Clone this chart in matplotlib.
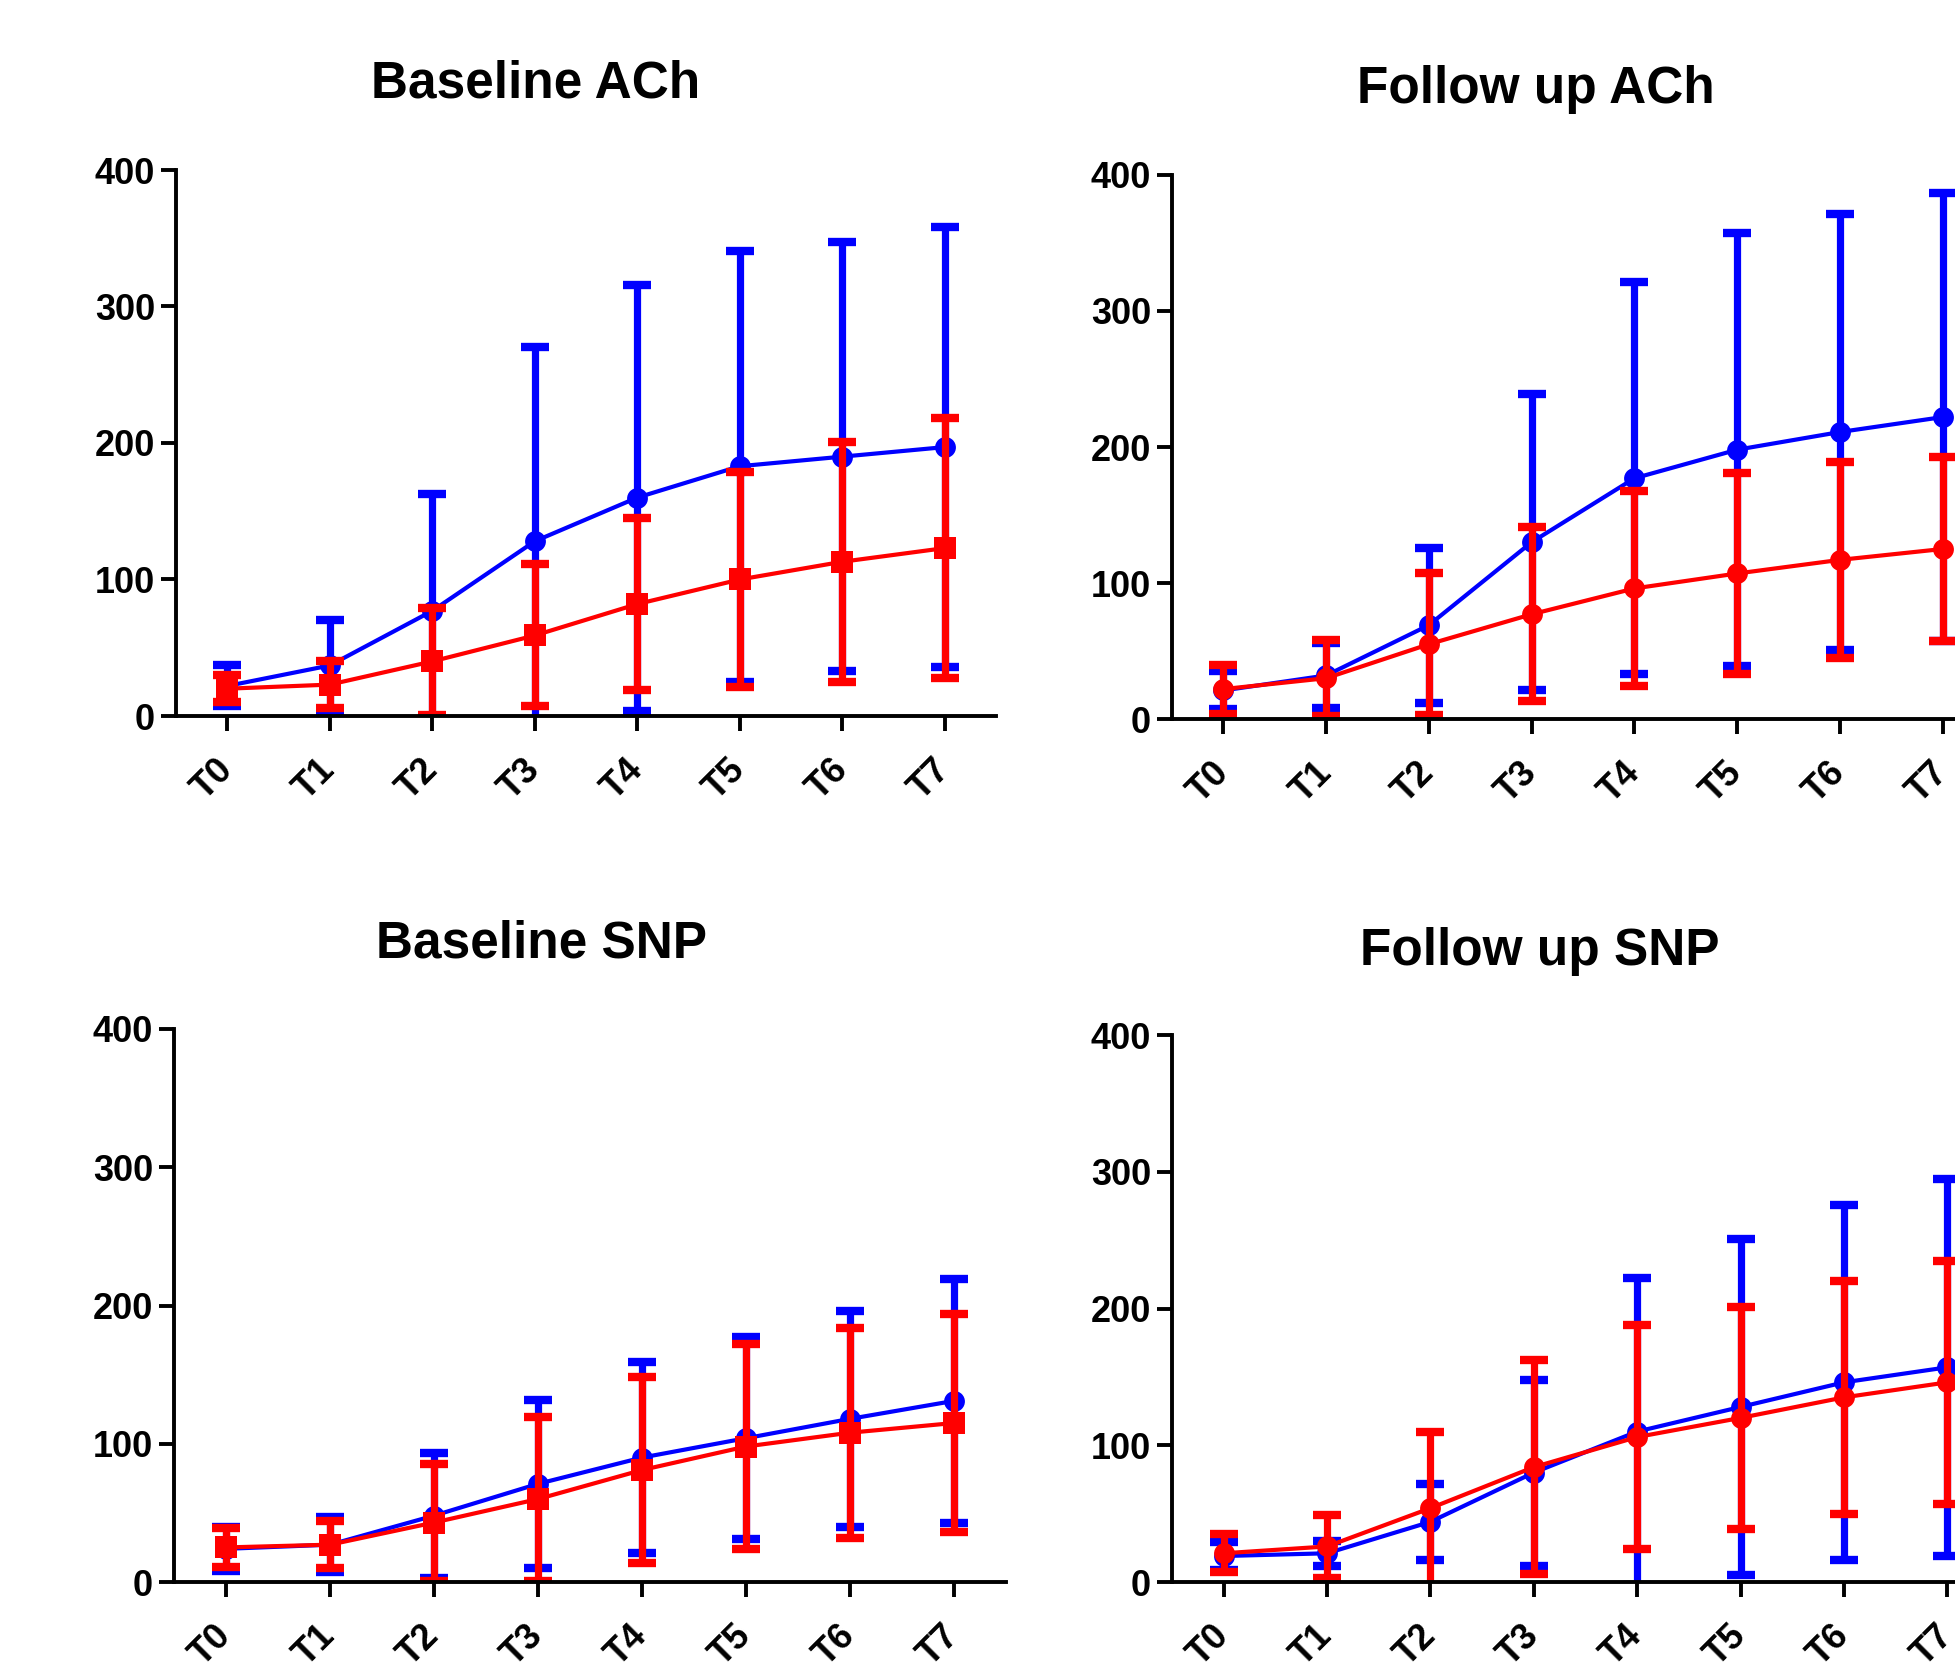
import numpy as np
import matplotlib
matplotlib.use("Agg")
import matplotlib.pyplot as plt
import matplotlib.transforms as mtransforms

plt.rcParams['font.family'] = ['Liberation Sans', 'DejaVu Sans']
plt.rcParams['font.weight'] = 'bold'

W, H = 1955, 1676

timepoints = ['T0', 'T1', 'T2', 'T3', 'T4', 'T5', 'T6', 'T7']
y_ticks = [0, 100, 200, 300, 400]

# Baseline ACh
base_ach_blue = [22, 37, 77, 128, 160, 183, 190, 197]
base_ach_blue_err = [15, 33, 86, 142, 156, 158, 157, 161]
base_ach_red = [20, 23, 40, 59, 82, 100, 113, 123]
base_ach_red_err = [10, 17, 39, 52, 63, 79, 88, 95]

# Follow up ACh
fu_ach_blue = [21, 32, 69, 130, 177, 198, 211, 222]
fu_ach_blue_err = [14, 24, 57, 109, 144, 159, 160, 165]
fu_ach_red = [22, 30, 55, 77, 96, 107, 117, 125]
fu_ach_red_err = [18, 28, 52, 64, 72, 74, 72, 68]

# Baseline SNP
base_snp_blue = [24, 27, 48, 71, 90, 104, 118, 131]
base_snp_blue_err = [16, 20, 45, 61, 69, 73, 78, 88]
base_snp_red = [25, 27, 43, 60, 81, 98, 108, 115]
base_snp_red_err = [14, 17, 42, 59, 67, 74, 76, 79]

# Follow up SNP
fu_snp_blue = [19, 21, 44, 80, 110, 128, 146, 157]
fu_snp_blue_err = [10, 9, 28, 68, 112, 123, 130, 138]
fu_snp_red = [21, 26, 54, 84, 106, 120, 135, 146]
fu_snp_red_err = [14, 23, 56, 78, 82, 81, 85, 89]

BLUE = '#0000ff'
RED = '#ff0000'


def add_panel(fig, box, title, title_xy, blue, blue_err, red, red_err, red_marker):
    """box is (left, top, right, bottom) in pixels of the full image."""
    l, t, r, b = box
    ax = fig.add_axes([l / W, 1 - b / H, (r - l) / W, (b - t) / H])
    x = np.arange(len(timepoints))

    for y, e, c, m in [(blue, blue_err, BLUE, 'o'), (red, red_err, RED, red_marker)]:
        # error bars first, then the mean line with markers on top
        ax.errorbar(x, y, yerr=e, fmt='none', ecolor=c, elinewidth=5.2,
                    capsize=10, capthick=6)
        ax.plot(x, y, color=c, linewidth=3, marker=m,
                markersize=15 if m == 'o' else 16, markeredgewidth=0)

    ax.set_xlim(-0.5, 7.5)
    ax.set_ylim(0, 400)
    ax.set_yticks(y_ticks)
    ax.set_xticks(x)
    ax.set_xticklabels(timepoints, rotation=45, ha='right', va='center',
                       rotation_mode='anchor')
    # nudge the slanted labels a little to the right
    shift = mtransforms.ScaledTranslation(6 / 72, 0, fig.dpi_scale_trans)
    for lab in ax.get_xticklabels():
        lab.set_transform(lab.get_transform() + shift)
    for s in ['top', 'right']:
        ax.spines[s].set_visible(False)
    for s in ['left', 'bottom']:
        ax.spines[s].set_linewidth(2.8)
    ax.tick_params(axis='both', length=11, width=2.8, labelsize=26)
    ax.tick_params(axis='y', pad=4)
    ax.tick_params(axis='x', pad=24)

    fig.text(title_xy[0] / W, 1 - title_xy[1] / H, title, fontsize=37,
             fontweight='bold', ha='center', va='center')
    return ax


fig = plt.figure(figsize=(W / 100, H / 100), dpi=100)

add_panel(fig, (176, 170, 996, 716), 'Baseline ACh', (536, 84),
          base_ach_blue, base_ach_blue_err, base_ach_red, base_ach_red_err, 's')
add_panel(fig, (1172, 175, 1994, 719), 'Follow up ACh', (1536, 89),
          fu_ach_blue, fu_ach_blue_err, fu_ach_red, fu_ach_red_err, 'o')
add_panel(fig, (174, 1029, 1006, 1582), 'Baseline SNP', (542, 944),
          base_snp_blue, base_snp_blue_err, base_snp_red, base_snp_red_err, 's')
add_panel(fig, (1172, 1035, 1999, 1582), 'Follow up SNP', (1540, 951),
          fu_snp_blue, fu_snp_blue_err, fu_snp_red, fu_snp_red_err, 'o')

fig.savefig('out.png', dpi=100)
